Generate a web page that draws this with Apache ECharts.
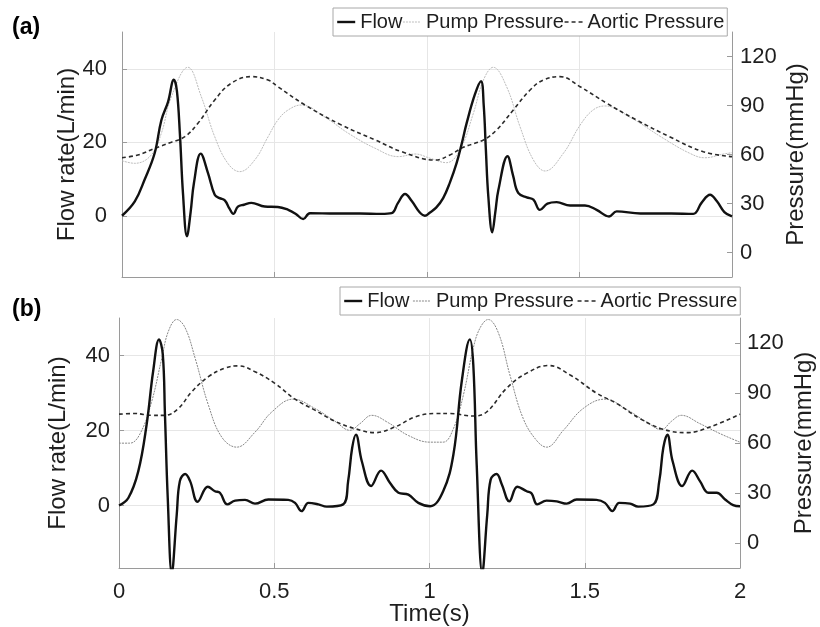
<!DOCTYPE html>
<html>
<head>
<meta charset="utf-8">
<script src="https://cdn.jsdelivr.net/npm/echarts@6/dist/echarts.min.js"></script>
<style>
  html, body { margin: 0; padding: 0; background: #fff; }
  #chart { width: 820px; height: 627px; }
</style>
</head>
<body>
<div id="chart"></div>
<script>
// Two heart cycles of pump-assisted flow and pressure, [time (s), value]
// Panel (a)
const flowA = [
  [0,0],[0.042,3.9],[0.074,9.8],[0.107,17],[0.129,26],[0.151,31],[0.170,37],[0.180,34],[0.190,22],
  [0.200,6],[0.213,-5.6],[0.225,1],[0.236,9],[0.258,16.9],[0.282,11.6],[0.304,5.7],[0.320,4.8],
  [0.337,4.2],[0.352,2],[0.365,0.5],[0.380,2.5],[0.400,3],[0.424,3.5],[0.468,2.5],[0.511,2.4],
  [0.545,1.6],[0.570,0.5],[0.594,-0.9],[0.616,0.7],[0.70,0.6],[0.78,0.6],[0.85,0.5],[0.884,0.7],
  [0.905,3.5],[0.928,5.9],[0.950,4],[0.975,1],[0.993,0],[1.010,0.9],
  [1.030,2.2],[1.053,4.8],[1.075,9],[1.097,14.3],[1.115,20],[1.130,25.2],[1.157,33],[1.177,36.6],
  [1.186,30],[1.193,18],[1.201,5.3],[1.214,-4.5],[1.224,1],[1.234,7],[1.264,16.2],[1.282,11],
  [1.299,6.2],[1.327,5.0],[1.349,4.4],[1.370,1.6],[1.395,3.3],[1.425,3.7],[1.469,2.8],[1.518,2.8],
  [1.556,1.6],[1.597,-0.2],[1.622,1.2],[1.70,0.6],[1.80,0.6],[1.873,0.5],[1.900,3.5],[1.928,5.7],
  [1.950,4],[1.975,1],[2.0,-0.2]
];
const pumpA = [
  [0,56.2],[0.042,54.6],[0.096,59.7],[0.129,73],[0.162,95.4],[0.216,113.4],[0.260,95.4],[0.304,70.9],
  [0.347,54.6],[0.386,49.5],[0.435,56.6],[0.479,70.9],[0.511,81.1],[0.545,87.3],[0.588,90.3],
  [0.666,82.8],[0.742,73],[0.830,63.8],[0.906,58.7],[0.961,60.3],[1.010,57.7],[1.064,55],
  [1.108,62.8],[1.152,85.2],[1.185,105.6],[1.217,113.4],[1.261,101.5],[1.305,77],[1.349,56.6],
  [1.387,49.9],[1.447,60.7],[1.502,78],[1.545,87.3],[1.584,89.7],[1.666,82.8],[1.775,69.9],
  [1.862,60.7],[1.911,58],[1.972,60.3],[2.0,61.1]
];
const aorticA = [
  [0,58],[0.052,59.7],[0.107,63.8],[0.162,67.5],[0.206,70.9],[0.249,79.1],[0.304,93.4],[0.358,103.6],
  [0.424,107.7],[0.479,105.6],[0.511,101.5],[0.600,90.3],[0.720,78],[0.830,68.9],[0.917,61.7],
  [1.026,56.6],[1.075,59.7],[1.119,64.4],[1.185,68.9],[1.228,75],[1.283,87.3],[1.338,99.5],
  [1.381,105.6],[1.436,107.7],[1.502,101.5],[1.589,91.4],[1.687,81.1],[1.795,70.9],[1.906,61.7],
  [2.0,58.7]
];
// Panel (b)
const flowB = [
  [0,0],[0.030,2],[0.062,9.1],[0.089,21.6],[0.110,35.8],[0.129,44.3],[0.141,40.3],[0.148,24.3],
  [0.157,2],[0.170,-18],[0.186,-2.4],[0.196,6.5],[0.213,8.4],[0.229,6.5],[0.253,1],[0.286,5],
  [0.309,3.8],[0.325,3.4],[0.349,0.3],[0.374,1.3],[0.406,1.5],[0.438,0.5],[0.481,1.6],[0.545,1.5],
  [0.567,0.7],[0.588,-1.5],[0.610,0.7],[0.642,0.3],[0.669,-0.3],[0.722,0.3],[0.738,6.5],[0.751,15.4],
  [0.763,18.9],[0.782,11.8],[0.812,5.2],[0.844,9.3],[0.873,6],[0.900,3.4],[0.932,2.9],[0.964,0.7],
  [1.002,-0.2],[1.044,3.8],[1.077,13.6],[1.104,33.2],[1.130,44.3],[1.141,37.6],[1.152,10.9],
  [1.170,-18],[1.186,-2.4],[1.197,6.9],[1.216,8.4],[1.233,5.6],[1.257,1.1],[1.283,5],[1.313,3.8],
  [1.329,3.2],[1.347,0.3],[1.377,1.3],[1.410,1.1],[1.442,0.5],[1.474,1.6],[1.538,1.5],[1.565,0.7],
  [1.589,-1.5],[1.611,0.7],[1.646,0.5],[1.672,-0.3],[1.721,0.3],[1.740,6.5],[1.753,15.4],[1.766,18.9],
  [1.783,11.8],[1.814,5.2],[1.846,9.3],[1.871,6.5],[1.898,3.4],[1.925,3.4],[1.952,1.6],[1.978,0.1],
  [2.0,-0.2]
];
const pumpB = [
  [0,59.9],[0.035,59.9],[0.068,65.6],[0.105,84.7],[0.138,111],[0.159,127],[0.186,134.1],[0.213,129.1],
  [0.245,111],[0.288,82.7],[0.331,63.5],[0.379,57.5],[0.438,66.5],[0.492,78.6],[0.561,86.3],
  [0.631,80.7],[0.696,73],[0.744,67.6],[0.776,71.6],[0.814,76.6],[0.867,72.2],[0.932,64.5],
  [1.002,60.5],[1.044,60.5],[1.077,68.6],[1.109,88.7],[1.141,117],[1.163,129.1],[1.189,134.1],
  [1.222,126],[1.259,100.8],[1.302,74.6],[1.345,61.5],[1.377,57.5],[1.431,67.6],[1.495,80.7],
  [1.565,86.3],[1.635,80.1],[1.699,72.6],[1.747,68],[1.779,73],[1.811,76.6],[1.871,71.6],
  [1.936,65.6],[2.0,60.5]
];
const aorticB = [
  [0,77.3],[0.052,77.7],[0.105,76.6],[0.148,76.6],[0.191,80.7],[0.234,90.7],[0.288,99.8],[0.341,104.9],
  [0.384,106.3],[0.438,102.8],[0.502,95.8],[0.567,86.3],[0.631,79.7],[0.696,73],[0.760,68.6],
  [0.824,66.2],[0.889,69.6],[0.953,75.6],[1.018,77.7],[1.066,77.7],[1.141,76.2],[1.184,78.6],
  [1.248,92.8],[1.313,101.9],[1.383,106.5],[1.453,100.8],[1.539,89.8],[1.603,83.7],[1.678,74.6],
  [1.753,68.2],[1.828,66.2],[1.903,69.6],[2.0,77.3]
];

const timeTicks = [0, 0.5, 1, 1.5, 2];
const flowTicks = [0, 20, 40];
const pressureTicks = [0, 30, 60, 90, 120];
const seriesNames = ['Flow', 'Pump Pressure', 'Aortic Pressure'];

const FONT = "'Liberation Sans', Arial, sans-serif";
const TEXT = '#1e1e1e';
const AXIS = '#9a9a9a';
const GRIDLINE = '#e6e6e6';
const TICK_FONT = 22;

function xAxisFor(gridIndex, showLabels) {
  return {
    type: 'value', gridIndex, min: 0, max: 2,
    axisLine: { show: true, onZero: false, lineStyle: { color: AXIS, width: 1 } },
    axisTick: { show: true, inside: true, length: 5, customValues: timeTicks, lineStyle: { color: AXIS } },
    axisLabel: {
      show: showLabels, customValues: timeTicks, color: TEXT, fontFamily: FONT, fontSize: TICK_FONT, margin: 13,
      formatter: v => String(v)
    },
    splitLine: { show: true, lineStyle: { color: GRIDLINE, width: 1 } },
    name: showLabels ? 'Time(s)' : '',
    nameLocation: 'middle', nameGap: 34, nameMoveOverlap: false,
    nameTextStyle: { color: TEXT, fontFamily: FONT, fontSize: 24 }
  };
}

function leftAxisFor(gridIndex, labelMargin, nameGap) {
  return {
    type: 'value', gridIndex, position: 'left', min: -50 / 3, max: 50,
    axisLine: { show: true, onZero: false, lineStyle: { color: AXIS } },
    axisTick: { show: true, inside: true, length: 5, customValues: flowTicks, lineStyle: { color: AXIS } },
    axisLabel: { customValues: flowTicks, color: TEXT, fontFamily: FONT, fontSize: TICK_FONT, margin: labelMargin },
    splitLine: { show: true, lineStyle: { color: GRIDLINE, width: 1 } },
    name: 'Flow rate(L/min)', nameLocation: 'middle', nameRotate: 90, nameGap, nameMoveOverlap: false,
    nameTextStyle: { color: TEXT, fontFamily: FONT, fontSize: 24 }
  };
}

function rightAxisFor(gridIndex, labelMargin, nameGap) {
  return {
    type: 'value', gridIndex, position: 'right', min: -15, max: 135,
    axisLine: { show: true, onZero: false, lineStyle: { color: AXIS } },
    axisTick: { show: true, inside: true, length: 5, customValues: pressureTicks, lineStyle: { color: AXIS } },
    axisLabel: { customValues: pressureTicks, color: TEXT, fontFamily: FONT, fontSize: TICK_FONT, margin: labelMargin },
    splitLine: { show: false },
    name: 'Pressure(mmHg)', nameLocation: 'middle', nameRotate: 90, nameGap, nameMoveOverlap: false,
    nameTextStyle: { color: TEXT, fontFamily: FONT, fontSize: 24 }
  };
}

function lineSeries(name, data, xi, yi, style, z) {
  return {
    name, type: 'line', data, xAxisIndex: xi, yAxisIndex: yi,
    symbol: 'none', showSymbol: false, smooth: 0.4, clip: true, z,
    color: style.color, lineStyle: style, animation: false
  };
}

const flowStyle = { color: '#111', width: 2.4, type: 'solid' };
const pumpStyleA = { color: '#bdbdbd', width: 1, type: [2, 1] };
const pumpStyleB = { color: '#888', width: 1, type: [2, 1] };
const aorticStyle = { color: '#2a2a2a', width: 1.6, type: [4, 3] };

function legendFor(left, top, gap, pumpStyle) {
  const hidden = { opacity: 0 };
  return {
    left, top, orient: 'horizontal',
    itemWidth: 18, itemHeight: 12, itemGap: gap, padding: [3, 3],
    backgroundColor: '#fff', borderColor: '#a8a8a8', borderWidth: 1, borderRadius: 0,
    selectedMode: false,
    textStyle: { color: TEXT, fontFamily: FONT, fontSize: 20, lineHeight: 22 },
    data: [
      { name: seriesNames[0], lineStyle: flowStyle, itemStyle: hidden },
      { name: seriesNames[1], lineStyle: pumpStyle, itemStyle: hidden },
      { name: seriesNames[2], lineStyle: aorticStyle, itemStyle: hidden }
    ]
  };
}

const chart = echarts.init(document.getElementById('chart'), null, { renderer: 'canvas' });
chart.setOption({
  backgroundColor: '#fff',
  animation: false,
  textStyle: { fontFamily: FONT },
  grid: [
    { left: 122, top: 32, width: 610, height: 245, outerBoundsMode: 'none', containLabel: false },
    { left: 119, top: 318, width: 621, height: 250, outerBoundsMode: 'none', containLabel: false }
  ],
  xAxis: [xAxisFor(0, false), xAxisFor(1, true)],
  yAxis: [
    leftAxisFor(0, 15, 43), rightAxisFor(0, 8, 52),
    leftAxisFor(1, 9, 49), rightAxisFor(1, 7, 52)
  ],
  legend: [legendFor(333, 8, 0, pumpStyleA), legendFor(340, 287, 3, pumpStyleB)],
  graphic: [
    { type: 'text', left: 12, top: 16, style: { text: '(a)', font: "bold 23px 'Liberation Sans', Arial", fill: '#000' } },
    { type: 'text', left: 12, top: 298, style: { text: '(b)', font: "bold 23px 'Liberation Sans', Arial", fill: '#000' } }
  ],
  series: [
    lineSeries(seriesNames[1], pumpA, 0, 1, pumpStyleA, 2),
    lineSeries(seriesNames[2], aorticA, 0, 1, aorticStyle, 3),
    lineSeries(seriesNames[0], flowA, 0, 0, flowStyle, 4),
    lineSeries(seriesNames[1], pumpB, 1, 3, pumpStyleB, 2),
    lineSeries(seriesNames[2], aorticB, 1, 3, aorticStyle, 3),
    lineSeries(seriesNames[0], flowB, 1, 2, flowStyle, 4)
  ]
});
</script>
</body>
</html>
